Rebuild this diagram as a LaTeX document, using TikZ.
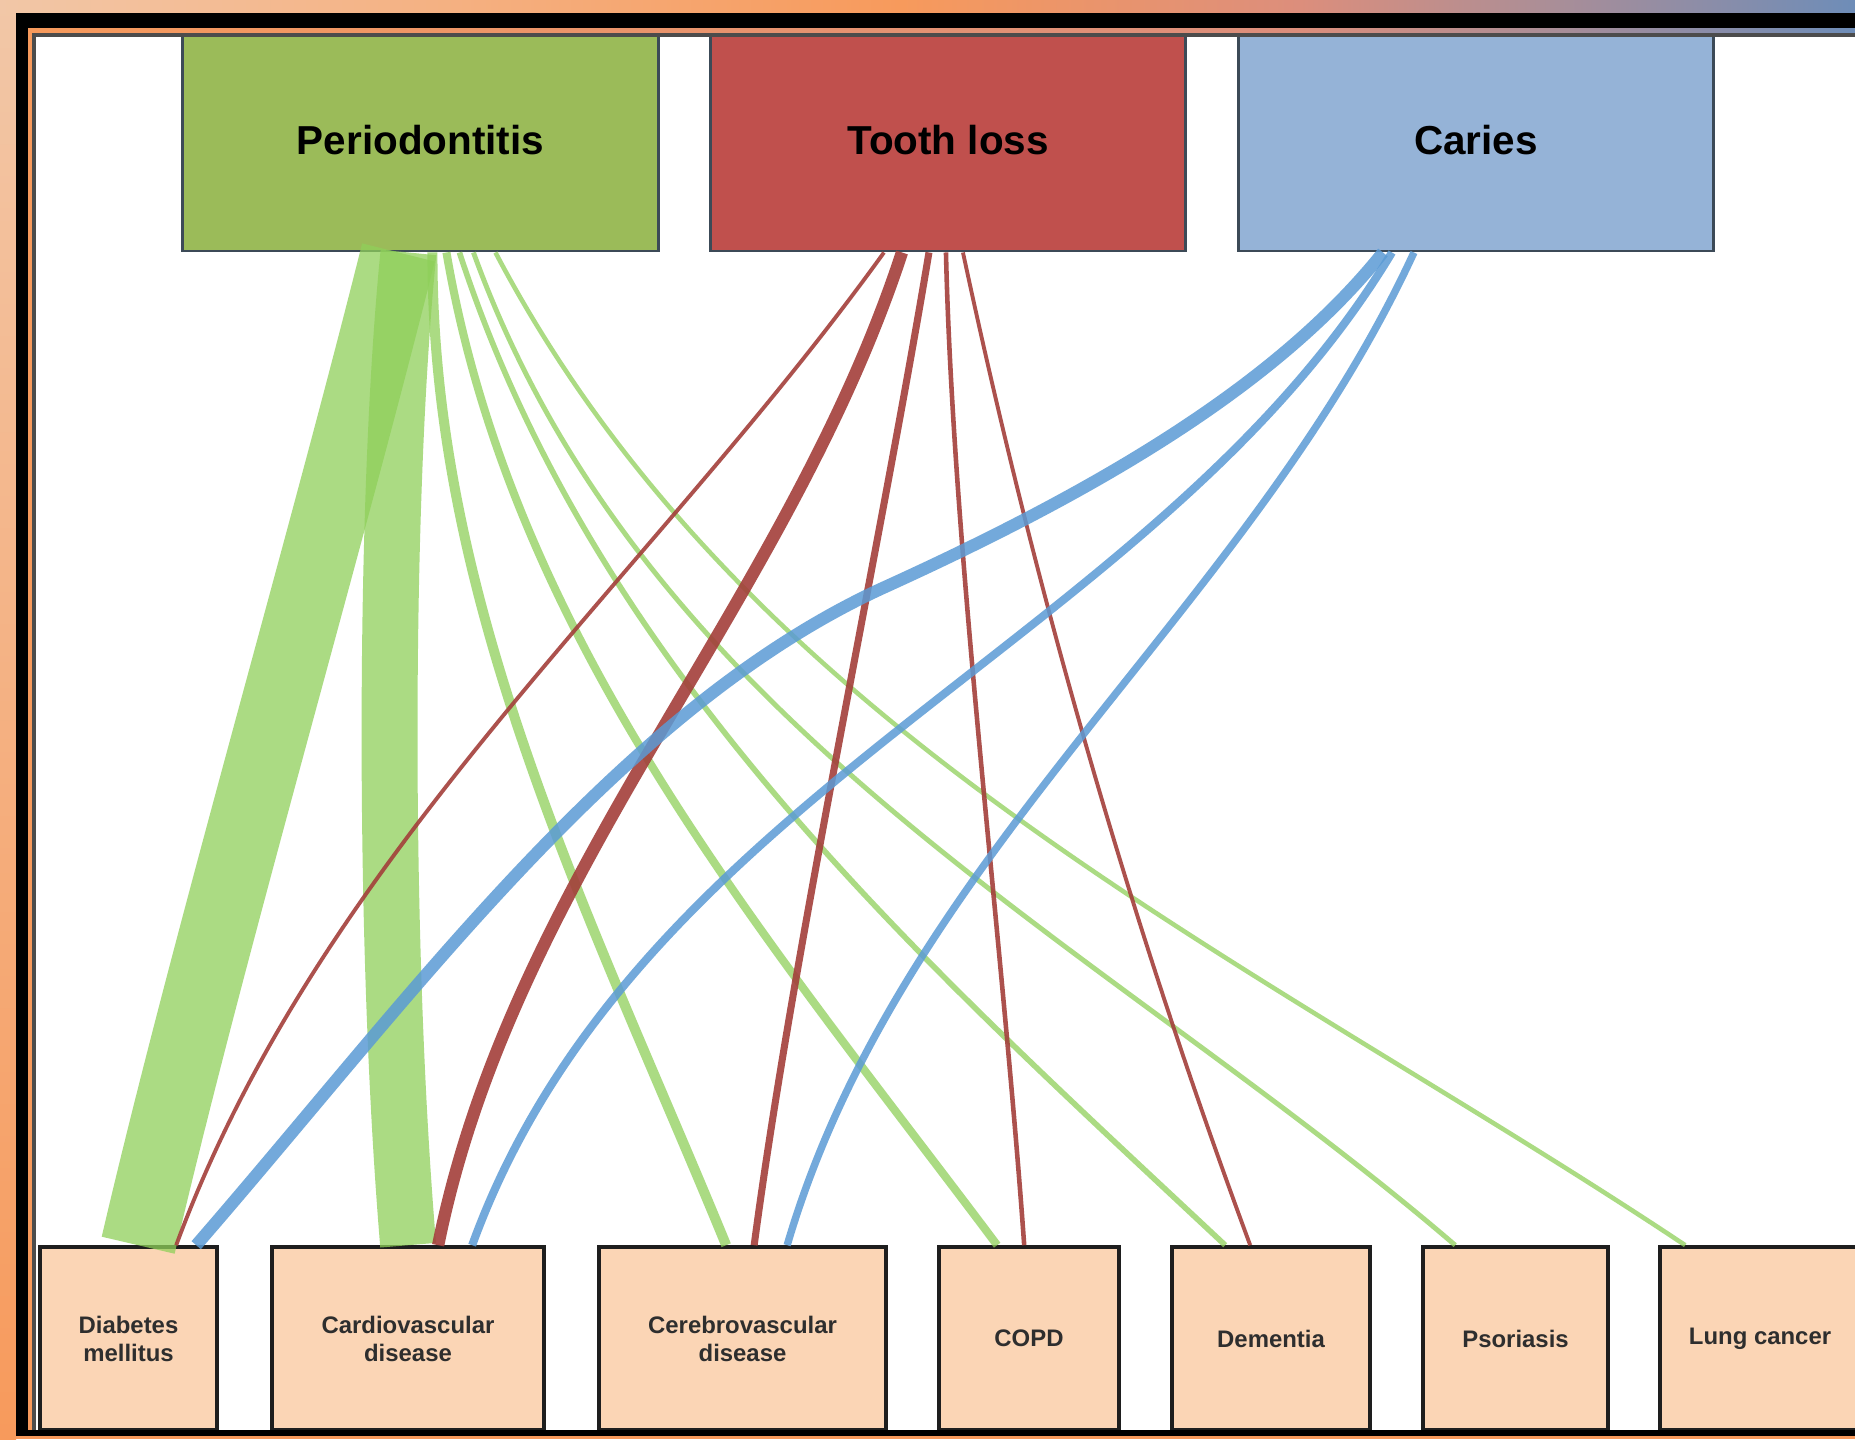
\documentclass[tikz,border=0pt]{standalone}
\usepackage{fontspec}
\setmainfont{Liberation Sans}
\usepackage{xcolor}
\usetikzlibrary{calc}

\definecolor{bgpeach}{HTML}{F2C7A7}
\definecolor{bgorange}{HTML}{F79A5C}
\definecolor{bgsalmon}{HTML}{DC8E7C}
\definecolor{bgblue}{HTML}{6E8DB8}
\definecolor{perio}{HTML}{9BBB59}
\definecolor{tooth}{HTML}{C0504D}
\definecolor{caries}{HTML}{95B3D7}
\definecolor{boxedge}{HTML}{3C4A57}
\definecolor{illfill}{HTML}{FBD5B5}
\definecolor{illedge}{HTML}{1E1E1E}
\definecolor{illtext}{HTML}{2E2E2E}
\definecolor{glinkc}{HTML}{8FD05A}
\definecolor{rlinkc}{HTML}{A33F3A}
\definecolor{blinkc}{HTML}{5B9BD5}

\begin{document}
\begin{tikzpicture}[x=0.01cm, y=-0.01cm,
  topbox/.style={draw=boxedge, line width=0.8pt, minimum width=4.75cm, minimum height=2.21cm,
    inner sep=0pt, text=black, font=\fontsize{11.5}{14}\selectfont\bfseries},
  illbox/.style={draw=illedge, line width=1pt, fill=illfill, minimum height=1.83cm, inner sep=0pt,
    align=center, text=illtext, font=\fontsize{6.8}{8}\selectfont\bfseries},
  glink/.style={draw=glinkc, draw opacity=0.75},
  rlink/.style={draw=rlinkc, draw opacity=0.9},
  blink/.style={draw=blinkc, draw opacity=0.85}]
\useasboundingbox (0,0) rectangle (1855,1439);

% Backdrop and white panel
\shade[top color=bgpeach, bottom color=bgorange] (0,0) rectangle (16,1439);
\shade[left color=bgpeach, right color=bgorange] (0,0) rectangle (900,13);
\shade[left color=bgorange, right color=bgsalmon] (900,0) rectangle (1300,13);
\shade[left color=bgsalmon, right color=bgblue] (1300,0) rectangle (1855,13);
\fill[bgorange] (0,1435) rectangle (1855,1439);
\fill[white] (28,28) rectangle (1855,1430);

% Top row: oral conditions
\node[topbox, fill=perio] (perio) at (420.5,140.5) {Periodontitis};
\node[topbox, fill=tooth] (tooth) at (948,140.5) {Tooth loss};
\node[topbox, fill=caries] (caries) at (1476,140.5) {Caries};

% Bottom row: systemic diseases
\node[illbox, minimum width=1.77cm] (diab) at (128.5,1338.5) {Diabetes\\mellitus};
\node[illbox, minimum width=2.72cm] (cardio) at (408,1338.5) {Cardiovascular\\disease};
\node[illbox, minimum width=2.87cm] (cere) at (742.5,1338.5) {Cerebrovascular\\disease};
\node[illbox, minimum width=1.80cm] (copd) at (1029,1338.5) {COPD};
\node[illbox, minimum width=1.98cm] (dem) at (1271,1338.5) {Dementia};
\node[illbox, minimum width=1.85cm] (psor) at (1515.5,1338.5) {Psoriasis};
\node[illbox, minimum width=2.00cm] (lung) at (1760,1338.5) {Lung cancer};

% Periodontitis links
\draw[glink, line width=21.3pt] ($(perio.south west)+(217,0)$) .. controls +(-75,300) and +(70,-300) .. ($(diab.north west)+(100,0)$);
\draw[glink, line width=15.9pt] ($(perio.south west)+(227,0)$) .. controls +(-25,249) and +(-25,-297) .. ($(cardio.north west)+(138,0)$);
\draw[glink, line width=2.85pt] ($(perio.south west)+(251,0)$) .. controls +(-1,356) and +(-130,-317) .. ($(cere.north west)+(129,0)$);
\draw[glink, line width=2.3pt] ($(perio.south west)+(265,0)$) .. controls +(67,392) and +(-227,-303) .. ($(copd.north west)+(60,0)$);
\draw[glink, line width=1.6pt] ($(perio.south west)+(278,0)$) .. controls +(137,421) and +(-303,-284) .. ($(dem.north west)+(55,0)$);
\draw[glink, line width=1.4pt] ($(perio.south west)+(292,0)$) .. controls +(173,478) and +(-353,-303) .. ($(psor.north west)+(34,0)$);
\draw[glink, line width=1.3pt] ($(perio.south west)+(314,0)$) .. controls +(255,485) and +(-431,-287) .. ($(lung.north west)+(27,0)$);

% Tooth loss links
\draw[rlink, line width=1.1pt] ($(tooth.south west)+(175,0)$) .. controls +(-237,329) and +(145,-393) .. ($(diab.north west)+(138,0)$);
\draw[rlink, line width=3.5pt] ($(tooth.south west)+(193,0)$) .. controls +(-116,354) and +(75,-372) .. ($(cardio.north west)+(168,0)$);
\draw[rlink, line width=2pt] ($(tooth.south west)+(220,0)$) .. controls +(-50,300) and +(40,-300) .. ($(cere.north west)+(157,0)$);
\draw[rlink, line width=1.3pt] ($(tooth.south west)+(237,0)$) .. controls +(7,299) and +(-21,-297) .. ($(copd.north west)+(87,0)$);
\draw[rlink, line width=1.1pt] ($(tooth.south west)+(254,0)$) .. controls +(73,341) and +(-121,-327) .. ($(dem.north west)+(80,0)$);

% Caries links
\draw[blink, line width=3.5pt] ($(caries.south west)+(146,0)$) .. controls +(-104,130) and +(220,-100) .. (885,587)
  .. controls +(-264,120) and +(217,-250) .. ($(diab.north west)+(158,0)$);
\draw[blink, line width=2.3pt] ($(caries.south west)+(155,0)$) .. controls +(-234,389) and +(166,-457) .. ($(cardio.north west)+(202,0)$);
\draw[blink, line width=2.1pt] ($(caries.south west)+(177,0)$) .. controls +(-166,360) and +(115,-392) .. ($(cere.north west)+(190,0)$);

% Frame
\fill[black] (16,13) rectangle (1855,28);
\fill[black] (16,13) rectangle (28,1436);
\fill[black] (16,1430) rectangle (1855,1436);
\fill[bgorange] (28,28) rectangle (32,1430);
\shade[left color=bgorange, right color=bgsalmon] (28,28) rectangle (1300,33);
\shade[left color=bgsalmon, right color=bgblue] (1300,28) rectangle (1855,33);
\fill[black!70] (32,33) rectangle (36,1430);
\fill[black!70] (32,33) rectangle (1855,37);
\end{tikzpicture}
\end{document}
